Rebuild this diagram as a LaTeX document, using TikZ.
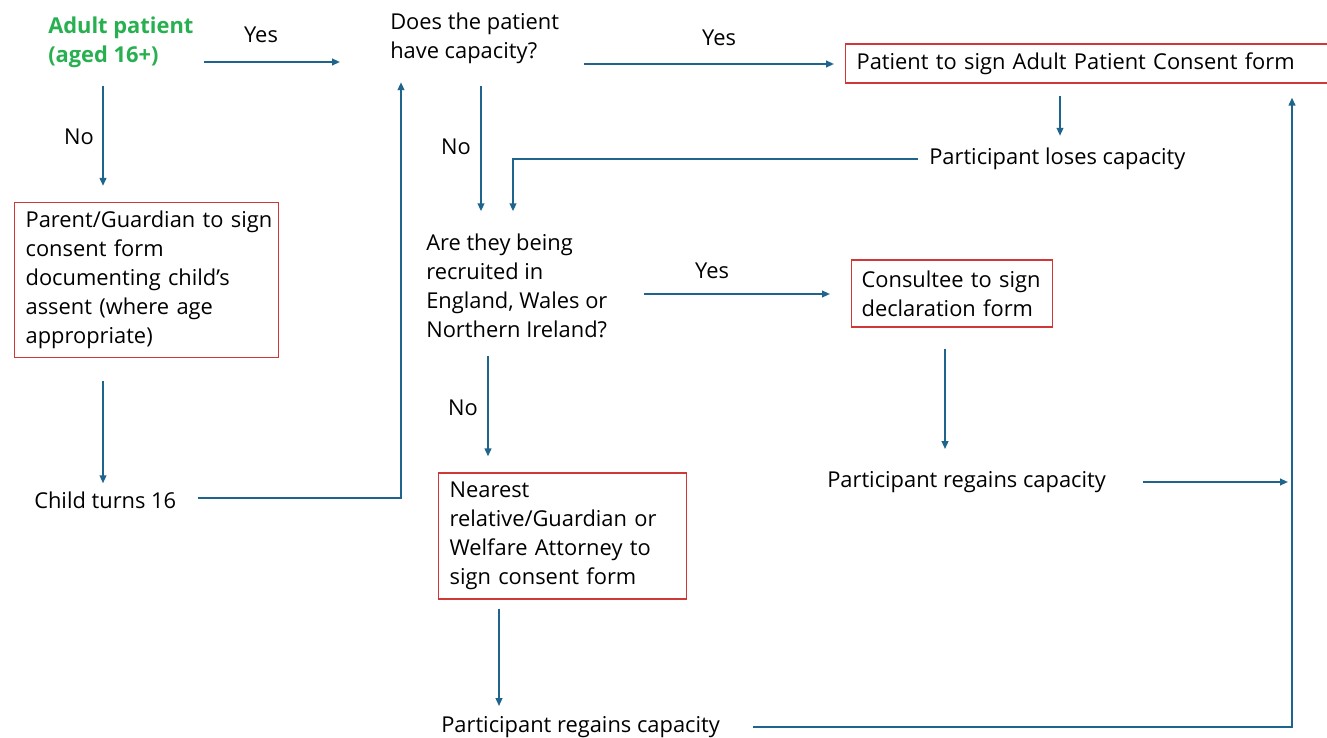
\documentclass[tikz,border=0pt]{standalone}
\usepackage{fontspec}
\setmainfont{Open Sans}
\usetikzlibrary{arrows.meta,positioning}

\definecolor{flowblue}{RGB}{31,100,140}
\definecolor{boxred}{RGB}{208,56,56}
\definecolor{adultgreen}{RGB}{40,176,80}

\tikzset{
  txt/.style={inner sep=0pt, anchor=west, align=left, font=\fontsize{16.4pt}{21.75pt}\selectfont},
  formbox/.style={txt, draw=boxred, line width=0.9pt, inner xsep=8.25pt},
  lbl/.style={inner sep=0pt, font=\fontsize{16.4pt}{21.75pt}\selectfont},
  arr/.style={draw=flowblue, line width=1.4pt, -{Triangle[length=6pt,width=5pt]}},
}

\begin{document}
\begin{tikzpicture}[x=0.75pt,y=-0.75pt]

        \clip (0,0) rectangle (1327,738);
        \fill[white] (0,0) rectangle (1327,738);

        % left column
        \node[txt, text=adultgreen, font=\fontsize{16.4pt}{21.75pt}\selectfont\bfseries] (adult) at (48,42) {Adult patient\\(aged 16+)};
        \node[formbox, minimum height=116.25pt, text width=181.5pt] (parent) at (14,280) {\mbox{Parent/Guardian to sign}\\consent form\\documenting child’s\\assent (where age\\appropriate)};
        \node[txt] (child) at (34,500) {Child turns 16};

        % middle column
        \node[txt] (does) at (390,38.5) {Does the patient\\have capacity?};
        \node[txt] (are) at (426,285.5) {Are they being\\recruited in\\England, Wales or\\Northern Ireland?};
        \node[formbox, minimum height=94.5pt, text width=169.5pt] (nearest) at (438,536) {Nearest\\relative/Guardian or\\Welfare Attorney to\\sign consent form};
        \node[txt] (regainB) at (441,727) {Participant regains capacity};

        % right column
        \node[formbox, minimum height=29.25pt, text width=358.5pt] (adultform) at (845,63.5) {Patient to sign Adult Patient Consent form};
        \node[txt] (loses) at (929,159) {Participant loses capacity};
        \node[formbox, minimum height=50.25pt, text width=135.75pt, inner xsep=7.5pt] (consultee) at (851,293.5) {Consultee to sign\\declaration form};
        \node[txt] (regainA) at (827,482) {Participant regains capacity};

        \coordinate (rail) at (1292,725);

        % labels
        \node[lbl] (yesA) at (261,35) {Yes};
        \node[lbl] (yesB) at (719,38) {Yes};
        \node[lbl] (yesC) at (712,271) {Yes};
        \node[lbl] (noA) at (79,137) {No};
        \node[lbl] (noB) at (456,147) {No};
        \node[lbl] (noC) at (463,408) {No};

        % connectors
        \draw[arr, shorten <=7.5pt, shorten >=37.5pt] (adult.east |- 0,62) -- (does.west |- 0,62);
        \draw[arr, shorten <=18.75pt, shorten >=8.25pt] (does.east |- 0,64) -- (adultform.west |- 0,64);
        \draw[arr, shorten <=13.5pt, shorten >=12pt] (adult.south -| 103,0) -- (parent.north -| 103,0);
        \draw[arr, shorten <=17.25pt, shorten >=6pt] (parent.south -| 103,0) -- (child.north -| 103,0);
        \draw[arr, shorten <=16.5pt, shorten >=13.5pt] (child.east |- 0,498) -| (does.south -| 401,0);
        \draw[arr, shorten <=16.5pt, shorten >=16.5pt] (does.south -| 481,0) -- (are.north -| 481,0);
        \draw[arr, shorten <=9pt, shorten >=9pt] (adultform.south -| 1060,0) -- (loses.north -| 1060,0);
        \draw[arr, shorten <=8.25pt, shorten >=16.5pt] (loses.west) -| (are.north -| 513,0);
        \draw[arr, shorten <=27pt, shorten >=15.75pt] (are.east |- 0,294) -- (consultee.west |- 0,294);
        \draw[arr, shorten <=13.5pt, shorten >=12pt] (are.south -| 488,0) -- (nearest.north -| 488,0);
        \draw[arr, shorten <=15.75pt, shorten >=16.5pt] (consultee.south -| 945,0) -- (regainA.north -| 945,0);
        \draw[arr, shorten <=6.75pt, shorten >=7.5pt] (nearest.south -| 499,0) -- (regainB.north -| 499,0);
        \draw[arr, shorten <=27.75pt, shorten >=3pt] (regainA.east) -- (regainA.east -| rail);
        \draw[arr, shorten <=24.75pt, shorten >=10.5pt] (regainB.east) -| (adultform.south -| rail);

\end{tikzpicture}
\end{document}
